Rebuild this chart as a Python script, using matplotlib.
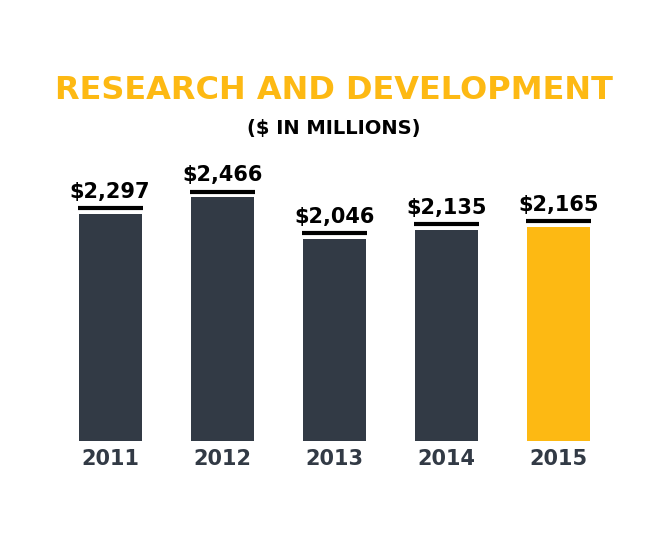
import matplotlib
matplotlib.use("Agg")
import matplotlib.pyplot as plt

years = ["2011", "2012", "2013", "2014", "2015"]
values = [2297, 2466, 2046, 2135, 2165]
labels = ["$2,297", "$2,466", "$2,046", "$2,135", "$2,165"]
colors = ["#323a45"] * 4 + ["#fdb913"]

FAM = ["Liberation Sans Narrow", "DejaVu Sans"]
fig = plt.figure(figsize=(6.67, 5.48), dpi=100)
ax = fig.add_axes([0.081, 0.195, 0.84, 0.542])
x = range(len(years))
ax.bar(x, values, width=0.5625, color=colors)
for i, v in enumerate(values):
    ax.hlines(v + 55, i - 0.29, i + 0.29, color="black", lw=3)
    ax.text(i, v + 120, labels[i], ha="center", va="bottom", fontsize=15,
            fontweight="bold", family=FAM, color="black")
ax.set_xlim(-0.5, 4.5)
ax.set_ylim(0, 3000)
ax.set_xticks(list(x))
ax.set_xticklabels(years, fontsize=15, fontweight="bold", family=FAM, color="#323a45")
ax.tick_params(axis="x", length=0, pad=6)
ax.set_yticks([])
for s in ax.spines.values():
    s.set_visible(False)
fig.text(0.5, 0.835, "RESEARCH AND DEVELOPMENT", ha="center", va="center",
         fontsize=23, fontweight="bold", family=FAM, color="#fdb913")
fig.text(0.5, 0.765, "($ IN MILLIONS)", ha="center", va="center",
         fontsize=14, fontweight="bold", family=FAM, color="black")
fig.savefig("out.png", dpi=100)
